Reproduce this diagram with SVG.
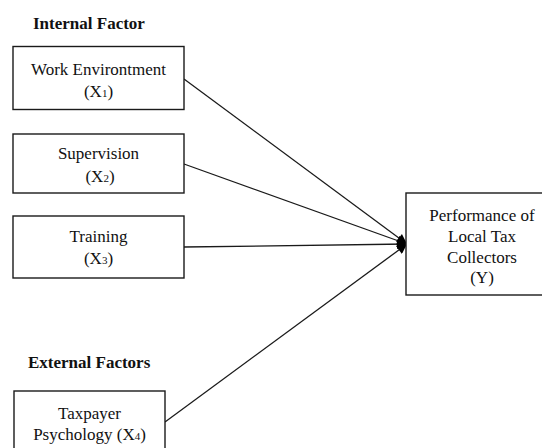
<svg xmlns="http://www.w3.org/2000/svg" width="542" height="448" viewBox="0 0 542 448">
<style>
.box{fill:#fff;stroke:#1a1a1a;stroke-width:1.4}
text{font-family:"Liberation Serif","DejaVu Serif",serif;font-size:17px;fill:#111}
.t{text-anchor:middle;font-weight:normal;font-style:normal}
.h{font-weight:bold}
.c{stroke:#1a1a1a;stroke-width:1.3;fill:none;marker-end:url(#ah)}
.sub{font-size:11px}
</style>
<defs>
<marker id="ah" viewBox="0 0 10 10" refX="10" refY="5" markerWidth="11" markerHeight="10" orient="auto" markerUnits="userSpaceOnUse">
<path d="M0,0 L10,5 L0,10 Z" fill="#000"/>
</marker>
</defs>
<rect width="542" height="448" fill="#fff"/>
<text class="h" x="33" y="29">Internal Factor</text>
<text class="h" x="28" y="368">External Factors</text>
<g id="connectors">
<line class="c" x1="184" y1="79" x2="407" y2="244"/>
<line class="c" x1="184" y1="164" x2="407" y2="244"/>
<line class="c" x1="184" y1="247" x2="407" y2="244"/>
<line class="c" x1="165" y1="422" x2="407" y2="244"/>
</g>
<g id="x1">
<rect class="box" x="13" y="46.5" width="171" height="63"/>
<text class="t" x="98.5" y="75">Work Environtment</text>
<text class="t" x="98.5" y="97">(X<tspan class="sub">1</tspan>)</text>
</g>
<g id="x2">
<rect class="box" x="13" y="134" width="171" height="59"/>
<text class="t" x="98.5" y="159">Supervision</text>
<text class="t" x="100" y="182">(X<tspan class="sub">2</tspan>)</text>
</g>
<g id="x3">
<rect class="box" x="13" y="216" width="171" height="62"/>
<text class="t" x="98.5" y="242">Training</text>
<text class="t" x="98.5" y="264">(X<tspan class="sub">3</tspan>)</text>
</g>
<g id="x4">
<rect class="box" x="14" y="391" width="151" height="70"/>
<text class="t" x="89.5" y="419">Taxpayer</text>
<text class="t" x="89.5" y="440">Psychology (X<tspan class="sub">4</tspan>)</text>
</g>
<g id="y">
<rect class="box" x="406" y="193" width="152" height="102"/>
<text class="t" x="482" y="221">Performance of</text>
<text class="t" x="482" y="242">Local Tax</text>
<text class="t" x="482" y="263">Collectors</text>
<text class="t" x="482" y="283">(Y)</text>
</g>
</svg>
